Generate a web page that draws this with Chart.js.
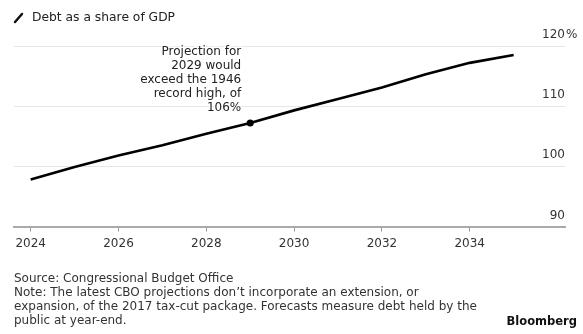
<!DOCTYPE html>
<html>
<head>
<meta charset="utf-8">
<script src="https://cdn.jsdelivr.net/npm/chart.js@4"></script>
<style>
  html, body { margin: 0; padding: 0; background: #fff; }
  #wrap { position: relative; width: 583px; height: 334px; overflow: hidden; font-family: "DejaVu Sans", sans-serif; }
  #debtChart { position: absolute; left: 0; top: 0; }
  .title { position: absolute; left: 32px; top: 9.75px; font-size: 12.3px; line-height: 14px; color: #222; white-space: nowrap; }
  .footer { position: absolute; left: 14px; top: 270.85px; font-size: 12px; line-height: 14px; color: #333; white-space: nowrap; }
  .brand { position: absolute; right: 6px; top: 313.5px; font-size: 11.5px; line-height: 14px; font-weight: bold; color: #111; white-space: nowrap; }
</style>
</head>
<body>
<div id="wrap">
  <canvas id="debtChart" width="583" height="334"></canvas>
  <div class="title">Debt as a share of GDP</div>
  <div class="footer">Source: Congressional Budget Office<br>Note: The latest CBO projections don’t incorporate an extension, or<br>expansion, of the 2017 tax-cut package. Forecasts measure debt held by the<br>public at year-end.</div>
  <div class="brand">Bloomberg</div>
</div>
<script>
const years = [2024, 2025, 2026, 2027, 2028, 2029, 2030, 2031, 2032, 2033, 2034, 2035];
const debtShare = [97.8, 99.9, 101.8, 103.5, 105.4, 107.2, 109.3, 111.2, 113.1, 115.3, 117.2, 118.5];
const yearTicks = [2024, 2026, 2028, 2030, 2032, 2034];
const shareTicks = [90, 100, 110, 120];
const noteYear = 2029;
const noteLines = ["Projection for", "2029 would", "exceed the 1946", "record high, of", "106%"];

const FONT = '"DejaVu Sans", sans-serif';

// y labels sit above their gridlines, right-aligned, with % on the top one
const shareLabels = {
    id: 'shareLabels',
    afterDraw(chart) {
        const ctx = chart.ctx;
        const y = chart.scales.y;
        const right = chart.chartArea.right;
        ctx.save();
        ctx.font = '12px ' + FONT;
        ctx.fillStyle = '#333';
        ctx.textAlign = 'right';
        ctx.textBaseline = 'alphabetic';
        shareTicks.forEach(v => {
            const py = y.getPixelForValue(v) - 8;
            ctx.fillText(String(v), right, py);
            if (v === shareTicks[shareTicks.length - 1]) {
                ctx.textAlign = 'left';
                ctx.fillText('%', right + 1, py);
                ctx.textAlign = 'right';
            }
        });
        ctx.restore();
    }
};

// annotation next to the 2029 point, plus the legend slash
const noteLabel = {
    id: 'noteLabel',
    afterDatasetsDraw(chart) {
        const ctx = chart.ctx;
        const idx = years.indexOf(noteYear);
        const pt = chart.getDatasetMeta(0).data[idx];
        ctx.save();
        ctx.font = '12px ' + FONT;
        ctx.textAlign = 'right';
        ctx.textBaseline = 'alphabetic';
        ctx.lineJoin = 'round';
        const x = pt.x - 9;
        const lastBase = pt.y - 12.5;
        const step = 13.9;
        noteLines.forEach((line, i) => {
            const by = lastBase - (noteLines.length - 1 - i) * step;
            ctx.strokeStyle = '#fff';
            ctx.lineWidth = 3;
            ctx.strokeText(line, x, by);
            ctx.fillStyle = '#222';
            ctx.fillText(line, x, by);
        });

        ctx.strokeStyle = '#111';
        ctx.lineWidth = 2.5;
        ctx.lineCap = 'round';
        ctx.beginPath();
        ctx.moveTo(15, 22);
        ctx.lineTo(22, 14);
        ctx.stroke();
        ctx.restore();
    }
};

new Chart(document.getElementById('debtChart'), {
    type: 'line',
    data: {
        datasets: [{
            data: years.map((yr, i) => ({ x: yr, y: debtShare[i] })),
            borderColor: '#000',
            borderWidth: 2.6,
            tension: 0,
            pointRadius: years.map(yr => yr === noteYear ? 3.5 : 0),
            pointBackgroundColor: '#000',
            pointBorderWidth: 0,
            clip: false
        }]
    },
    options: {
        responsive: false,
        animation: false,
        events: [],
        layout: { padding: { left: 14, right: 18, top: 46, bottom: 77.5 } },
        plugins: { legend: { display: false }, tooltip: { enabled: false } },
        scales: {
            x: {
                type: 'linear',
                min: 2023.62,
                max: 2036.17,
                afterBuildTicks: scale => { scale.ticks = yearTicks.map(v => ({ value: v })); },
                afterFit: scale => { scale.height = 30; },
                ticks: {
                    color: '#333',
                    font: { family: FONT, size: 12 },
                    padding: 5,
                    maxRotation: 0,
                    callback: v => String(v)
                },
                grid: { drawOnChartArea: false, drawTicks: true, tickLength: 5, tickColor: '#999', tickWidth: 1 },
                border: { display: true, color: '#aaa', width: 2 }
            },
            y: {
                position: 'right',
                min: 90,
                max: 120,
                afterBuildTicks: scale => { scale.ticks = shareTicks.map(v => ({ value: v })); },
                afterFit: scale => { scale.width = 0; },
                ticks: { display: false },
                grid: { color: '#e6e6e6', lineWidth: 1, drawTicks: false },
                border: { display: false }
            }
        }
    },
    plugins: [shareLabels, noteLabel]
});
</script>
</body>
</html>
